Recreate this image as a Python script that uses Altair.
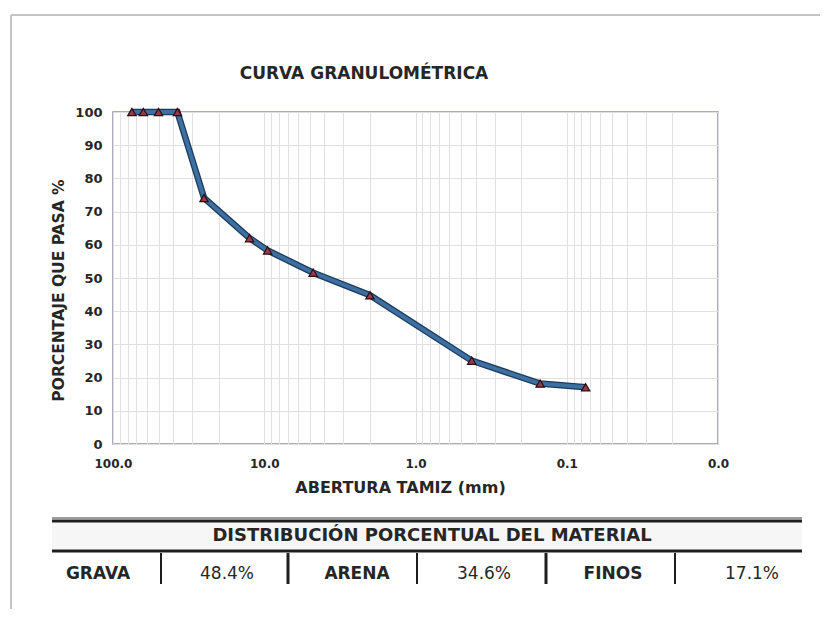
import altair as alt
import pandas as pd

# ---- data ----
abertura_mm = [75.0, 63.0, 50.0, 37.5, 25.0, 12.5, 9.5, 4.75, 2.0, 0.425, 0.15, 0.075]
pasa_pct = [100.0, 100.0, 100.0, 100.0, 74.1, 62.0, 58.3, 51.6, 44.8, 25.1, 18.2, 17.1]

x_ticks = [100, 10, 1, 0.1, 0.01]
y_ticks = [0, 10, 20, 30, 40, 50, 60, 70, 80, 90, 100]
x_grid = [m * d for d in [0.01, 0.1, 1, 10] for m in range(1, 10)] + [100]

tabla_cat = ["GRAVA", "ARENA", "FINOS"]
tabla_val = [48.4, 34.6, 17.1]

titulo = "CURVA GRANULOMÉTRICA"
titulo_tabla = "DISTRIBUCIÓN PORCENTUAL DEL MATERIAL"

df = pd.DataFrame({"abertura": abertura_mm, "pasa": pasa_pct})

W, H = 605, 332
FONT = "DejaVu Sans"
TXT = "#262626"

x_enc = alt.X(
    "abertura:Q",
    scale=alt.Scale(type="log", domain=[0.01, 100], reverse=True, nice=False),
    axis=alt.Axis(
        values=x_grid,
        labelExpr="abs(log(datum.value)/LN10 - round(log(datum.value)/LN10)) < 1e-6 ? format(datum.value, '.1f') : ''",
        grid=True, gridColor="#e0e0e0", gridWidth=1,
        ticks=False, tickSize=0, domain=False,
        labelFont=FONT, labelFontWeight="bold", labelFontSize=12, labelColor=TXT,
        labelPadding=14, labelFlush=False, labelOverlap=False,
        title="ABERTURA TAMIZ (mm)", titleFont=FONT, titleFontWeight="bold",
        titleFontSize=16, titleColor=TXT, titleX=287, titleY=43,
        titleBaseline="middle",
    ),
)
y_enc = alt.Y(
    "pasa:Q",
    scale=alt.Scale(domain=[0, 100], nice=False),
    axis=alt.Axis(
        values=y_ticks, tickCount=11, format="d",
        grid=True, gridColor="#e0e0e0", gridWidth=1,
        ticks=False, tickSize=0, domain=False, labelOverlap=False,
        labelFont=FONT, labelFontWeight="bold", labelFontSize=13, labelColor=TXT,
        labelPadding=11,
        title="PORCENTAJE QUE PASA %", titleFont=FONT, titleFontWeight="bold",
        titleFontSize=15.5, titleColor=TXT, titleX=-55, titleY=178,
        titleAngle=-90, titleBaseline="middle", titleAlign="center",
    ),
)

base = alt.Chart(df)
line_dark = base.mark_line(color="#1d3a5a", strokeWidth=6.5).encode(x=x_enc, y=y_enc)
line_blue = base.mark_line(color="#3d70a2", strokeWidth=4).encode(x=x_enc, y=y_enc)
pts = base.mark_point(
    shape="triangle-up", filled=True, size=70, fill="#9a3848", stroke="#2a0e12",
    strokeWidth=1.2, opacity=1,
).encode(x=x_enc, y=y_enc)

one = alt.Data(values=[{}])


def rule(x, x2, y, y2, color, w):
    return alt.Chart(one).mark_rule(color=color, strokeWidth=w).encode(
        x=alt.value(x), x2=alt.value(x2), y=alt.value(y), y2=alt.value(y2)
    )


def text(t, x, y, size, weight="bold"):
    return alt.Chart(alt.Data(values=[{"t": t}])).mark_text(
        font=FONT, fontSize=size, fontWeight=weight, color=TXT,
        align="center", baseline="middle",
    ).encode(text="t:N", x=alt.value(x), y=alt.value(y))


deco = []
# page frame
deco.append(rule(-102, 707, -97, -97, "#c4c4c4", 2))
deco.append(rule(-102, -102, -97, 497, "#c4c4c4", 2))
# title
deco.append(text(titulo, 251, -38, 17))
# table header band + lines
deco.append(
    alt.Chart(one).mark_rect(color="#f6f6f6").encode(
        x=alt.value(-61), x2=alt.value(689), y=alt.value(410), y2=alt.value(437)
    )
)
deco.append(rule(-61, 689, 406, 406, "#3a3a3a", 1))
deco.append(rule(-61, 689, 409, 409, "#1e1e1e", 3))
deco.append(rule(-61, 689, 439, 439, "#1e1e1e", 3))
for xs, w in zip([48, 175, 304, 433, 562], [2, 3, 2, 3, 2]):
    deco.append(rule(xs, xs, 441, 472, "#1e1e1e", w))
deco.append(text(titulo_tabla, 319, 424, 18))
cat_x = [-15, 244, 500]
val_x = [114, 371, 639]
for c, v, cx, vx in zip(tabla_cat, tabla_val, cat_x, val_x):
    deco.append(text(c, cx, 462, 17))
    deco.append(text(f"{v:.1f}%", vx, 462, 17, "normal"))

chart = alt.layer(line_dark, line_blue, pts, *deco).properties(
    width=W, height=H,
    autosize=alt.AutoSizeParams(type="none"),
    padding={"left": 105, "top": 104, "right": 102, "bottom": 165},
    background="white",
).configure_view(stroke="#8e93a3", strokeWidth=1.5)

chart.save("out.html", embed_options={"renderer": "svg", "actions": False})
